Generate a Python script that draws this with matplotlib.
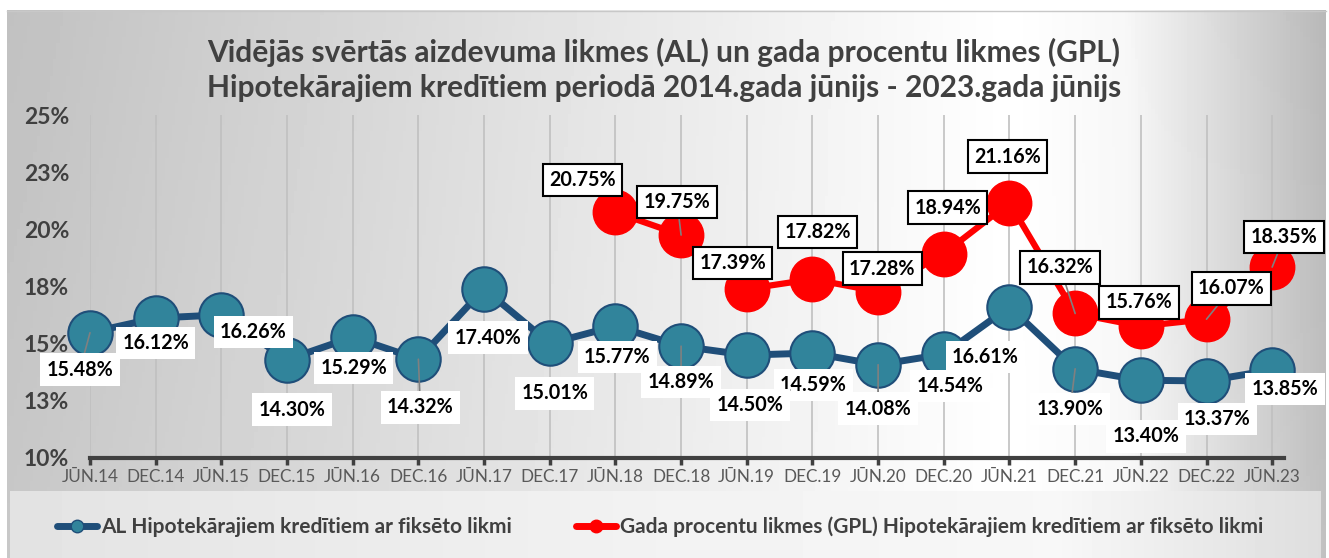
import numpy as np
import matplotlib
matplotlib.use("Agg")
from matplotlib import pyplot as plt
from matplotlib.lines import Line2D

plt.rcParams['font.family'] = ['Lato', 'DejaVu Sans']

# ---------------------------------------------------------------- data
periods = ['JŪN.14', 'DEC.14', 'JŪN.15', 'DEC.15', 'JŪN.16', 'DEC.16', 'JŪN.17',
           'DEC.17', 'JŪN.18', 'DEC.18', 'JŪN.19', 'DEC.19', 'JŪN.20', 'DEC.20',
           'JŪN.21', 'DEC.21', 'JŪN.22', 'DEC.22', 'JŪN.23']

al_rates = [15.48, 16.12, 16.26, 14.30, 15.29, 14.32, 17.40, 15.01, 15.77, 14.89,
            14.50, 14.59, 14.08, 14.54, 16.61, 13.90, 13.40, 13.37, 13.85]

gpl_start = 8  # GPL series begins at JŪN.18
gpl_rates = [20.75, 19.75, 17.39, 17.82, 17.28, 18.94, 21.16, 16.32, 15.76, 16.07, 18.35]

y_ticks = [10, 12.5, 15, 17.5, 20, 22.5, 25]
y_tick_labels = ['10%', '13%', '15%', '18%', '20%', '23%', '25%']

title = ("Vidējās svērtās aizdevuma likmes (AL) un gada procentu likmes (GPL)\n"
         "Hipotekārajiem kredītiem periodā 2014.gada jūnijs - 2023.gada jūnijs")
label_al = "AL Hipotekārajiem kredītiem ar fiksēto likmi"
label_gpl = "Gada procentu likmes (GPL) Hipotekārajiem kredītiem ar fiksēto likmi"

# label offsets in pixels (dx, dy) from the marker, plus which ones get a leader line
al_offsets = [(-10, -37), (0, -25), (32, -17), (5, -50), (1, -31), (2, -48), (4, -49),
              (5, -50), (2, -31), (0, -36), (3, -50), (1, -32), (0, -44), (6, -32),
              (-24, -50), (-5, -40), (5, -56), (11, -38), (13, -19)]
al_leaders = {0, 5, 9, 12, 15}
gpl_offsets = [(-33, 32), (-4, 33), (-14, 26), (5, 47), (4, 23), (4, 46), (-2, 46),
               (-15, 46), (-2, 24), (25, 31), (12, 30)]
gpl_leaders = {1, 7, 9, 10}

# ---------------------------------------------------------------- figure
W, H = 1329, 558
fig = plt.figure(figsize=(W / 100, H / 100), dpi=100)

# gradient background of the chart area
bg = fig.add_axes([0, 0, 1, 1], zorder=-10)
bg.set_xlim(0, W)
bg.set_ylim(H, 0)
bg.axis('off')
xs = np.linspace(0, 1, 400)
xp = [0.0, 0.3, 0.76, 0.85, 1.0]
fp = [0.77, 0.86, 1.0, 0.97, 0.74]
row = np.interp(xs, xp, fp)
ys = np.linspace(0, 1, 100)[:, None]
grad = np.clip(row[None, :] + 0.03 * (ys - 0.5) * (1 - row[None, :]) * 4, 0, 1)
bg.imshow(grad, cmap='gray', vmin=0, vmax=1, extent=[7, W - 3, H, 10], aspect='auto')
bg.plot([7, W - 3], [10.5, 10.5], color='#c8c8c8', lw=1)

# lighter legend band
row2 = np.interp(xs, [0.0, 0.5, 0.8, 1.0], [0.89, 0.95, 0.97, 0.87])
bg.imshow(np.tile(row2, (10, 1)), cmap='gray', vmin=0, vmax=1,
          extent=[10, W - 8, H, 491], aspect='auto')

ax = fig.add_axes([90 / W, 1 - 458 / H, (1284 - 90) / W, (458 - 115) / H])
ax.patch.set_alpha(0)

x = np.arange(len(periods))
x_gpl = x[gpl_start:gpl_start + len(gpl_rates)]

ax.plot(x, al_rates, color='#1f4e79', lw=5, marker='o', ms=32,
        markerfacecolor='#31849b', markeredgecolor='#1f4e79', markeredgewidth=1.5,
        zorder=3, solid_capstyle='round', clip_on=False)
ax.plot(x_gpl, gpl_rates, color='#ff0000', lw=4.5, marker='o', ms=32,
        markerfacecolor='#ff0000', markeredgecolor='#ff0000', zorder=3, clip_on=False)

lbl_size = 14.2
n = len(al_rates)
for i, v in enumerate(al_rates):
    arrow = dict(arrowstyle='-', color='#808080', lw=1.2, shrinkA=0, shrinkB=0) \
        if i in al_leaders else None
    ax.annotate(f'{v:.2f}%', xy=(x[i], v), xytext=al_offsets[i], textcoords='offset pixels',
                ha='center', va='center', fontsize=lbl_size, fontweight='bold', color='black',
                bbox=dict(boxstyle='square,pad=0.32', fc='white', ec='none'),
                arrowprops=arrow, zorder=5 + (n - i) * 0.01, annotation_clip=False)

for j, v in enumerate(gpl_rates):
    arrow = dict(arrowstyle='-', color='#808080', lw=1.2, shrinkA=0, shrinkB=0) \
        if j in gpl_leaders else None
    ax.annotate(f'{v:.2f}%', xy=(x_gpl[j], v), xytext=gpl_offsets[j], textcoords='offset pixels',
                ha='center', va='center', fontsize=lbl_size, fontweight='bold', color='black',
                bbox=dict(boxstyle='square,pad=0.32', fc='white', ec='black', lw=1.5),
                arrowprops=arrow, zorder=6, annotation_clip=False)

ax.set_xlim(0, 18.18)
ax.set_ylim(10, 25)
ax.set_yticks(y_ticks)
ax.set_yticklabels(y_tick_labels, fontsize=16.5, fontweight='bold', color='#404040')
ax.set_xticks(x)
ax.set_xticklabels(periods, fontsize=12.3, color='#595959')
ax.tick_params(axis='y', length=0, pad=15)
ax.tick_params(axis='x', direction='out', length=5, width=2.5, color='#404040', pad=3)
ax.grid(axis='x', color='#c0c0c0', lw=1.2)
for s in ['left', 'right', 'top']:
    ax.spines[s].set_visible(False)
ax.spines['bottom'].set_color('#404040')
ax.spines['bottom'].set_linewidth(3)

fig.text(664 / W, 1 - 70 / H, title, ha='center', va='center', fontsize=21.5,
         fontweight='bold', color='#404040', linespacing=1.32)

handles = [Line2D([], [], color='#1f4e79', lw=5, marker='o', ms=9,
                  markerfacecolor='#31849b', markeredgecolor='#1f4e79', solid_capstyle='round'),
           Line2D([], [], color='#ff0000', lw=5, marker='o', ms=9,
                  markerfacecolor='#ff0000', markeredgecolor='#ff0000', solid_capstyle='round')]
fig.legend(handles, [label_al, label_gpl], loc='center', bbox_to_anchor=(660 / W, 1 - 527 / H),
           ncol=2, frameon=False, handlelength=1.9, handletextpad=0.2, columnspacing=3.1,
           prop=dict(family=['Lato', 'DejaVu Sans'], weight='bold', size=15))
for t in fig.legends[0].get_texts():
    t.set_color('#404040')

plt.savefig('out.png', dpi=100)
